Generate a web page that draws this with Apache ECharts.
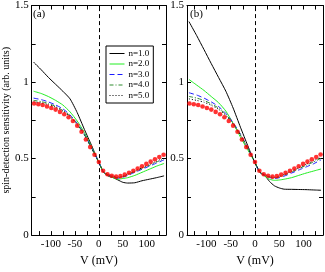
<!DOCTYPE html>
<html><head><meta charset="utf-8">
<script src="https://cdn.jsdelivr.net/npm/echarts@6/dist/echarts.min.js"></script>
<style>html,body{margin:0;padding:0;background:#fff}#c{width:325px;height:272px}</style>
</head><body><div id="c"></div>
<script>
// voltage samples (mV) for theory curves
var vLine = [-136,-120,-105,-90,-75,-60,-45,-30,-15,0,10,20,30,40,50,60,75,90,105,120,136];
// panel (a)
var aN1 = [1.13,1.08,1.03,0.985,0.94,0.89,0.80,0.69,0.585,0.475,0.41,0.385,0.375,0.36,0.345,0.34,0.342,0.355,0.365,0.375,0.387];
var aN2 = [0.94,0.925,0.905,0.88,0.85,0.805,0.745,0.67,0.575,0.475,0.41,0.39,0.375,0.365,0.37,0.375,0.39,0.41,0.43,0.45,0.468];
var aN3 = [0.895,0.885,0.87,0.85,0.825,0.785,0.73,0.66,0.57,0.475,0.41,0.392,0.38,0.372,0.378,0.39,0.41,0.43,0.45,0.47,0.492];
var aN4 = [0.88,0.872,0.86,0.84,0.815,0.78,0.725,0.655,0.567,0.475,0.412,0.393,0.382,0.375,0.382,0.395,0.415,0.435,0.455,0.477,0.499];
var aN5 = [0.87,0.863,0.852,0.835,0.81,0.775,0.72,0.652,0.565,0.475,0.413,0.395,0.384,0.377,0.385,0.398,0.418,0.44,0.46,0.482,0.505];
// panel (b)
var bN1 = [1.395,1.303,1.212,1.12,1.03,0.94,0.83,0.705,0.585,0.47,0.41,0.39,0.35,0.322,0.308,0.30,0.299,0.298,0.297,0.295,0.293];
var bN2 = [1.017,0.98,0.945,0.905,0.865,0.81,0.73,0.64,0.558,0.475,0.41,0.385,0.365,0.358,0.36,0.365,0.375,0.39,0.405,0.418,0.432];
var bN3 = [0.93,0.915,0.895,0.87,0.84,0.795,0.735,0.66,0.57,0.475,0.41,0.39,0.377,0.37,0.375,0.385,0.405,0.425,0.445,0.465,0.492];
var bN4 = [0.906,0.895,0.88,0.857,0.83,0.788,0.73,0.657,0.568,0.475,0.412,0.392,0.38,0.374,0.38,0.392,0.412,0.433,0.455,0.477,0.502];
var bN5 = [0.89,0.88,0.868,0.848,0.822,0.782,0.725,0.654,0.566,0.475,0.413,0.394,0.383,0.376,0.383,0.396,0.417,0.44,0.462,0.485,0.51];
// measured points (red dots)
var vDots = [-135,-126,-117,-108,-99,-90,-81,-72,-63,-54,-45,-36,-27,-18,-9,0,9,18,27,36,45,54,63,72,81,90,99,108,117,126,135];
var aDots = [0.86,0.855,0.85,0.84,0.83,0.82,0.805,0.79,0.77,0.745,0.715,0.675,0.625,0.575,0.525,0.478,0.42,0.398,0.388,0.382,0.385,0.395,0.407,0.42,0.435,0.45,0.465,0.48,0.495,0.51,0.525];
var bDots = [0.86,0.855,0.85,0.84,0.83,0.82,0.805,0.79,0.77,0.745,0.715,0.675,0.625,0.575,0.525,0.478,0.42,0.398,0.388,0.382,0.385,0.395,0.407,0.42,0.435,0.45,0.465,0.48,0.495,0.51,0.527];
var names = ['n=1.0','n=2.0','n=3.0','n=4.0','n=5.0'];
var xTicks = [-125,-100,-75,-50,-25,0,25,50,75,100,125];
var xLabels = [-100,-50,0,50,100];
var yTicks = [0,0.25,0.5,0.75,1,1.25,1.5];
var yLabels = [0,0.5,1,1.5];
var panelTags = ['(a)','(b)'];

var FONT = 'Liberation Serif';
var styles = [
  {color:'#000000', type:'solid'},
  {color:'#22ee22', type:'solid'},
  {color:'#1a1aff', type:[5,3]},
  {color:'#2e8b2e', type:[4,2,1,2]},
  {color:'#000000', type:[1,2]}
];
function pairs(xs, ys){ return xs.map(function(x,i){return [x, ys[i]];}); }

var grids = [{left:30,top:5.5,width:136,height:238.5},{left:187,top:5.5,width:136,height:238.5}];
var xAxes = [], yAxes = [], series = [];
var panels = [[aN1,aN2,aN3,aN4,aN5,aDots],[bN1,bN2,bN3,bN4,bN5,bDots]];
for (var g=0; g<2; g++){
  var base = {type:'value', min:-140, max:140, gridIndex:g,
    axisLine:{show:true,onZero:false,lineStyle:{color:'#000',width:1}},
    axisTick:{show:true,inside:true,length:4,customValues:xTicks,lineStyle:{color:'#000'}},
    splitLine:{show:false}};
  xAxes.push(Object.assign({}, base, {position:'bottom',
    axisLabel:{show:true,customValues:xLabels,fontFamily:FONT,fontSize:11,color:'#000',margin:4},
    name:'V (mV)',nameLocation:'middle',nameGap:18,nameTextStyle:{fontFamily:FONT,fontSize:12,color:'#000'}}));
  xAxes.push(Object.assign({}, base, {position:'top', axisLabel:{show:false}}));
  var ybase = {type:'value', min:0, max:1.5, gridIndex:g,
    axisLine:{show:true,onZero:false,lineStyle:{color:'#000',width:1}},
    axisTick:{show:true,inside:true,length:4,customValues:yTicks,lineStyle:{color:'#000'}},
    splitLine:{show:false}};
  var yl = Object.assign({}, ybase, {position:'left',
    axisLabel:{show:true,customValues:yLabels,fontFamily:FONT,fontSize:11,color:'#000',margin:3}});
  if (g===0){ yl.name='spin-detection sensitivity (arb. units)'; yl.nameLocation='middle'; yl.nameGap=17;
    yl.nameTextStyle={fontFamily:FONT,fontSize:10,color:'#000'}; }
  yAxes.push(yl);
  yAxes.push(Object.assign({}, ybase, {position:'right', axisLabel:{show:false}}));
  var data = panels[g];
  for (var s=0; s<5; s++){
    series.push({type:'line', name:names[s], xAxisIndex:2*g, yAxisIndex:2*g,
      data:pairs(vLine,data[s]), showSymbol:false, symbol:'none', smooth:0.2,
      lineStyle:{color:styles[s].color,type:styles[s].type,width:1}, itemStyle:{color:styles[s].color},
      z:3+s, silent:true, animation:false,
      markLine: s===0 ? {symbol:'none',silent:true,label:{show:false},animation:false,
        lineStyle:{color:'#000',type:[4,3],width:1},data:[{xAxis:0}]} : undefined});
  }
  series.push({type:'scatter', name:'exp', xAxisIndex:2*g, yAxisIndex:2*g,
    data:pairs(vDots,data[5]), symbol:'circle', symbolSize:4.6,
    itemStyle:{color:'#ff0000'}, z:10, animation:false});
}

var chart = echarts.init(document.getElementById('c'), null, {renderer:'canvas'});
chart.setOption({
  animation:false,
  backgroundColor:'#fff',
  grid:grids,
  xAxis:xAxes, yAxis:yAxes,
  legend:{data:names.map(function(n){return {name:n};}), orient:'vertical', left:106, top:46,
    itemWidth:15, itemHeight:8, itemGap:1.5, padding:[3,4,3,3],
    borderColor:'#000', borderWidth:1, backgroundColor:'#fff',
    itemStyle:{opacity:0, borderWidth:0}, lineStyle:{width:1},
    textStyle:{fontFamily:FONT,fontSize:9,color:'#000',padding:[0,0,0,-1]}, selectedMode:false},
  graphic:[
    {type:'text', left:33, top:9, style:{text:panelTags[0], font:'11px "Liberation Serif"', fill:'#000'}},
    {type:'text', left:190, top:9, style:{text:panelTags[1], font:'11px "Liberation Serif"', fill:'#000'}}
  ],
  series:series
});
</script></body></html>
